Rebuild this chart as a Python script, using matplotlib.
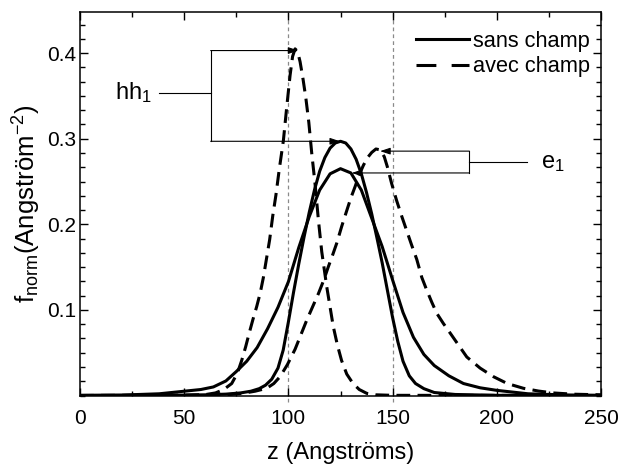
import matplotlib
matplotlib.use('Agg')
import matplotlib.pyplot as plt
from matplotlib.ticker import MultipleLocator, FixedLocator
from matplotlib.lines import Line2D

plt.rcParams['font.family'] = ['Liberation Sans', 'DejaVu Sans']
plt.rcParams['mathtext.fontset'] = 'custom'
plt.rcParams['mathtext.rm'] = 'Liberation Sans'
plt.rcParams['mathtext.it'] = 'Liberation Sans:italic'
plt.rcParams['mathtext.default'] = 'regular'

# ---- data ----
z_hh1_sans = [0, 40, 60, 70, 77, 82, 86, 89, 92, 95, 97.5, 100, 102.5, 105, 107.5, 110, 112.5, 115,
              117.5, 120, 122.5, 125, 127.5, 130, 132.5, 135, 137.5, 140, 142.5, 145, 147.5, 150,
              152.5, 155, 158, 161, 165, 170, 180, 200, 250]
f_hh1_sans = [0, 0.0002, 0.0008, 0.0016, 0.003, 0.005, 0.008, 0.012, 0.019, 0.032, 0.053, 0.086,
              0.121, 0.154, 0.185, 0.214, 0.240, 0.262, 0.278, 0.289, 0.295, 0.297, 0.295, 0.288,
              0.276, 0.259, 0.237, 0.212, 0.184, 0.155, 0.123, 0.091, 0.063, 0.040, 0.023, 0.014,
              0.008, 0.0035, 0.0012, 0.0002, 0]

z_e1_sans = [0, 20, 38, 50, 58, 64, 70, 75, 80, 85, 90, 95, 100, 105, 110, 115, 120, 125, 130, 135,
             140, 145, 150, 155, 160, 165, 170, 177, 184, 192, 200, 215, 235, 250]
f_e1_sans = [0.0002, 0.0005, 0.002, 0.005, 0.007, 0.010, 0.017, 0.028, 0.040, 0.056, 0.078, 0.103,
             0.133, 0.173, 0.209, 0.240, 0.259, 0.265, 0.260, 0.240, 0.207, 0.174, 0.135, 0.097,
             0.068, 0.048, 0.035, 0.023, 0.014, 0.009, 0.006, 0.002, 0.0005, 0.0002]

z_hh1_avec = [0, 50, 60, 65, 69, 72.8, 75.5, 77.6, 79.5, 81.2, 83, 84.8, 86.5, 88, 89.5, 91, 92.5,
              94, 95.6, 97.6, 99.2, 100.8, 102, 103.2, 104.4, 105.6, 107, 108.4, 109.8, 111.2, 112.8,
              114.4, 116, 118.4, 121.5, 123.5, 125.5, 128, 131, 134, 137.6, 142, 150, 250]
f_hh1_avec = [0, 0.0002, 0.001, 0.003, 0.007, 0.014, 0.026, 0.041, 0.057, 0.073, 0.089, 0.104,
              0.120, 0.138, 0.160, 0.182, 0.210, 0.234, 0.264, 0.298, 0.337, 0.374, 0.396, 0.405,
              0.402, 0.390, 0.370, 0.347, 0.319, 0.283, 0.247, 0.205, 0.168, 0.127, 0.081, 0.059,
              0.041, 0.025, 0.014, 0.007, 0.0025, 0.0008, 0.0002, 0]

z_e1_avec = [0, 50, 65, 72, 78, 84, 89.6, 93, 96, 99.5, 103.2, 106, 108.8, 111.5, 114.4, 117, 119.1,
             121.2, 123.2, 125.5, 128, 130, 132, 134, 136, 138, 140, 142, 144, 146, 147.5, 149.5,
             151.9, 154.3, 156.7, 159.1, 161.6, 164, 166.4, 168.8, 171.2, 174.4, 177.6, 181.6,
             185.6, 192, 198.4, 205, 212.8, 220, 227, 237, 250]
f_e1_avec = [0, 0.0002, 0.0006, 0.0012, 0.0025, 0.005, 0.0084, 0.014, 0.022, 0.036, 0.054, 0.071,
             0.088, 0.103, 0.119, 0.135, 0.150, 0.164, 0.178, 0.197, 0.216, 0.231, 0.244, 0.258,
             0.269, 0.278, 0.284, 0.288, 0.287, 0.279, 0.267, 0.248, 0.228, 0.210, 0.193, 0.176,
             0.159, 0.138, 0.123, 0.109, 0.096, 0.084, 0.073, 0.059, 0.045, 0.032, 0.022, 0.014,
             0.0084, 0.0052, 0.003, 0.0015, 0.0008]

wells = [100, 150]
x_ticks = [0, 50, 100, 150, 200, 250]
y_ticks = [0.1, 0.2, 0.3, 0.4]
legend_labels = ['sans champ', 'avec champ']

# ---- figure ----
fig = plt.figure(figsize=(6.2, 4.7), dpi=100)
ax = fig.add_axes([80 / 620, 1 - 395.5 / 470, (601 - 80) / 620, (395.5 - 11.7) / 470])

LW = 2.2
DASH = (4.5, 2.4)
ax.plot(z_hh1_sans, f_hh1_sans, color='black', lw=LW, solid_capstyle='butt')
ax.plot(z_e1_sans, f_e1_sans, color='black', lw=LW, solid_capstyle='butt')
ax.plot(z_hh1_avec, f_hh1_avec, color='black', lw=LW, dashes=DASH)
ax.plot(z_e1_avec, f_e1_avec, color='black', lw=LW, dashes=DASH)

for w in wells:
    ax.plot([w, w], [-0.008, 0.4484], color='#8a8a8a', lw=0.9, linestyle=(0, (3, 2.5)),
            clip_on=False, zorder=0.5)

ax.set_xlim(0, 250)
ax.set_ylim(0, 0.4484)

ax.xaxis.set_major_locator(FixedLocator(x_ticks))
ax.xaxis.set_minor_locator(MultipleLocator(25))
ax.yaxis.set_major_locator(FixedLocator(y_ticks))
ax.yaxis.set_minor_locator(MultipleLocator(0.1 / 6))
ax.tick_params(which='both', direction='in', top=True, right=True, width=1.0, labelsize=15)
ax.tick_params(which='major', length=6)
ax.tick_params(which='minor', length=3.5)
ax.tick_params(axis='x', pad=10)
ax.tick_params(axis='y', pad=3)
for s in ax.spines.values():
    s.set_linewidth(1.1)

ax.set_xlabel('z (Angströms)', fontsize=17, labelpad=10)
ax.set_ylabel(r'f$_{\mathregular{norm}}$(Angström$^{\mathregular{-2}}$)', fontsize=18.5, labelpad=3)

# ---- annotations ----
lk = dict(color='black', lw=0.8)
ak = dict(arrowstyle='-|>,head_length=0.6,head_width=0.2', color='black', lw=0.8,
          shrinkA=0, shrinkB=0)
# hh1 bracket
ax.text(16.8, 0.354, r'hh$_{\mathregular{1}}$', fontsize=17, va='center', ha='left')
ax.plot([37.8, 62.7], [0.354, 0.354], **lk)
ax.plot([62.7, 62.7], [0.297, 0.403], **lk)
ax.annotate('', xy=(104.8, 0.403), xytext=(62.7, 0.403), arrowprops=ak)
ax.annotate('', xy=(124.8, 0.297), xytext=(62.7, 0.297), arrowprops=ak)
# e1 bracket
ax.text(221.2, 0.272, r'e$_{\mathregular{1}}$', fontsize=17, va='center', ha='left')
ax.plot([186.8, 214.3], [0.2725, 0.2725], **lk)
ax.plot([186.8, 186.8], [0.260, 0.2855], **lk)
ax.annotate('', xy=(144, 0.2855), xytext=(186.8, 0.2855), arrowprops=ak)
ax.annotate('', xy=(130.4, 0.260), xytext=(186.8, 0.260), arrowprops=ak)

handles = [Line2D([], [], color='black', lw=LW),
           Line2D([], [], color='black', lw=LW, dashes=(6.5, 5))]
ax.legend(handles, legend_labels, loc='upper right', bbox_to_anchor=(0.979, 0.950),
          frameon=False, fontsize=15.7, handlelength=2.4, handletextpad=0.2,
          labelspacing=0.2, borderaxespad=0, borderpad=0)

fig.savefig('out.png', dpi=100)
